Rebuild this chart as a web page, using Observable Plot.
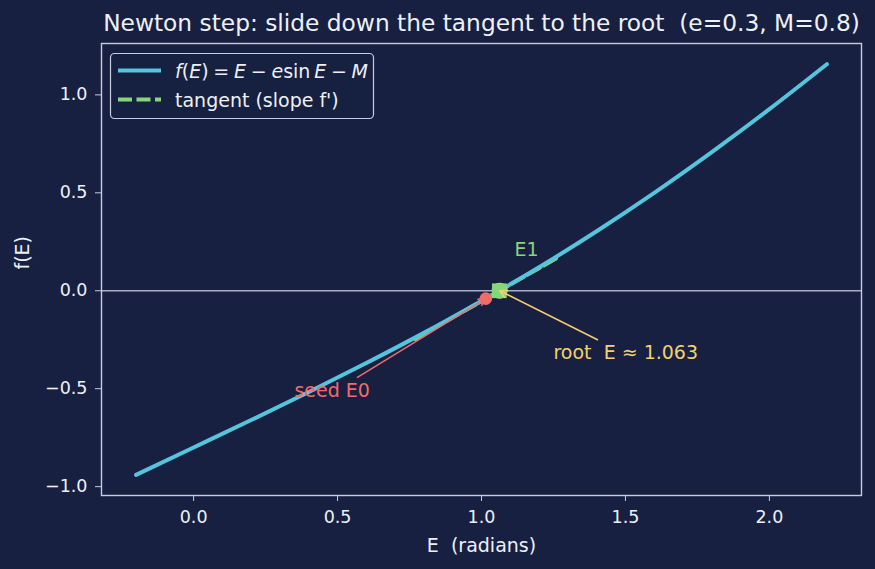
<!DOCTYPE html>
<html>
<head>
<meta charset="utf-8">
<script src="https://cdn.jsdelivr.net/npm/d3@7"></script>
<script src="https://cdn.jsdelivr.net/npm/@observablehq/plot@0.6"></script>
<style>
  html, body { margin: 0; padding: 0; background: #172041; }
  svg { display: block; }
</style>
</head>
<body>
<div id="chart"></div>
<script>
// ---- data ----
const title = "Newton step: slide down the tangent to the root  (e=0.3, M=0.8)";
const xLabel = "E  (radians)";
const yLabel = "f(E)";
const curveE = [-0.2, 0.0, 0.2, 0.4, 0.6, 0.8, 1.0, 1.2, 1.4, 1.6, 1.8, 2.0, 2.2];
const curveF = [-0.940, -0.800, -0.660, -0.517, -0.369, -0.215, -0.052, 0.120, 0.304, 0.500, 0.708, 0.927, 1.157];
const tangentE = [0.77, 1.26];
const tangentF = [-0.246, 0.166];
const seedPoint = {E: 1.015, f: -0.040};
const e1Point = {E: 1.062, f: 0.0};
const rootPoint = {E: 1.063, f: 0.0};
const xTicks = [0.0, 0.5, 1.0, 1.5, 2.0];
const yTicks = [-1.0, -0.5, 0.0, 0.5, 1.0];
const labelTexts = ["seed E0", "root  E \u2248 1.063", "E1"];
const labelE = [0.35, 1.25, 1.115];
const labelF = [-0.511, -0.318, 0.207];
const arrowFromE = [0.569, 1.403];
const arrowFromF = [-0.442, -0.250];
const legendLabels = ["f(E) = E \u2212 e sin E \u2212 M", "tangent (slope f')"];

// ---- styling ----
const BG = "#172041", FG = "#eef0f6", SPINE = "#c8cce0";
const BLUE = "#56c4dc", GREEN = "#86d67a", RED = "#f26b6b", YELLOW = "#f4d06f", ZERO = "#a9adbd";

const curve = curveE.map((E, i) => ({E, f: curveF[i]}));
const tangent = tangentE.map((E, i) => ({E, f: tangentF[i]}));
const labels = labelTexts.map((t, i) => ({t, E: labelE[i], f: labelF[i], c: [RED, YELLOW, GREEN][i]}));
const arrows = [
  {x1: arrowFromE[0], y1: arrowFromF[0], x2: seedPoint.E, y2: seedPoint.f, c: RED, inset: 3},
  {x1: arrowFromE[1], y1: arrowFromF[1], x2: rootPoint.E, y2: rootPoint.f, c: YELLOW, inset: 7}
];
const fmt = d3.format(".1f");

const chart = Plot.plot({
  width: 875,
  height: 569,
  marginLeft: 101,
  marginRight: 14,
  marginTop: 43,
  marginBottom: 74,
  style: {background: BG, color: FG, fontFamily: "DejaVu Sans", fontSize: "17.5px"},
  x: {domain: [-0.32, 2.32]},
  y: {domain: [-1.0453, 1.2623]},
  marks: [
    Plot.ruleY([0], {stroke: ZERO, strokeWidth: 1.3}),
    Plot.line(tangent, {x: "E", y: "f", stroke: GREEN, strokeWidth: 4, strokeDasharray: "14 4.5"}),
    Plot.line(curve, {x: "E", y: "f", stroke: BLUE, strokeWidth: 4, curve: "natural"}),
    Plot.dot([seedPoint], {x: "E", y: "f", r: 6.3, fill: RED, stroke: null}),
    Plot.dot([rootPoint], {x: "E", y: "f", r: 8, fill: YELLOW, stroke: null}),
    Plot.dot([e1Point], {x: "E", y: "f", r: 8.3, symbol: "square", fill: GREEN, stroke: null}),
    Plot.arrow(arrows, {x1: "x1", y1: "y1", x2: "x2", y2: "y2", stroke: "c", strokeWidth: 1.5,
      headLength: 8, headAngle: 55, insetEnd: d => d.inset}),
    Plot.text(labels, {x: "E", y: "f", text: "t", fill: "c", textAnchor: "start", lineAnchor: "middle", fontSize: 19}),
    Plot.frame({stroke: SPINE, strokeWidth: 1.4}),
    Plot.axisX({ticks: xTicks, tickFormat: fmt, tickSize: 6, tickPadding: 9, label: null, stroke: SPINE, fontSize: 17.5}),
    Plot.axisY({ticks: yTicks, tickFormat: fmt, tickSize: 6, tickPadding: 8, label: null, stroke: SPINE, fontSize: 17.5}),
    Plot.text([title], {frameAnchor: "top", dy: -20, lineAnchor: "middle", fontSize: 23.3, fill: FG}),
    Plot.text([xLabel], {frameAnchor: "bottom", dy: 50, lineAnchor: "middle", fontSize: 19, fill: FG}),
    Plot.text([yLabel], {frameAnchor: "left", dx: -79, rotate: -90, lineAnchor: "middle", fontSize: 19, fill: FG})
  ]
});

// ---- legend ----
const svg = d3.select(chart);
const lg = svg.append("g").attr("font-family", "DejaVu Sans").attr("font-size", 19)
  .attr("fill", FG).attr("text-anchor", "start");
lg.append("rect").attr("x", 110.5).attr("y", 53.5).attr("width", 263).attr("height", 65).attr("rx", 4)
  .attr("fill", BG).attr("fill-opacity", 0.8).attr("stroke", SPINE).attr("stroke-width", 1.2);
lg.append("line").attr("x1", 118).attr("x2", 161).attr("y1", 70.5).attr("y2", 70.5)
  .attr("stroke", BLUE).attr("stroke-width", 4);
lg.append("line").attr("x1", 118).attr("x2", 161).attr("y1", 99.5).attr("y2", 99.5)
  .attr("stroke", GREEN).attr("stroke-width", 4).attr("stroke-dasharray", "14 4.5");
// math-styled first label
const t1 = lg.append("text").attr("x", 175).attr("y", 71).attr("dy", "0.35em").attr("text-anchor", "start");
const sp = "\u2005";
const parts = [["f", true], ["(", false], ["E", true], [")" + sp + "=" + sp, false], ["E", true], [sp + "\u2212" + sp, false],
  ["e", true], ["sin\u2009", false], ["E", true], [sp + "\u2212" + sp, false], ["M", true]];
parts.forEach(([s, it]) => t1.append("tspan").attr("font-style", it ? "italic" : "normal").text(s));
lg.append("text").attr("x", 175).attr("y", 100).attr("dy", "0.35em").attr("text-anchor", "start").text(legendLabels[1]);

document.getElementById("chart").appendChild(chart);
</script>
</body>
</html>
